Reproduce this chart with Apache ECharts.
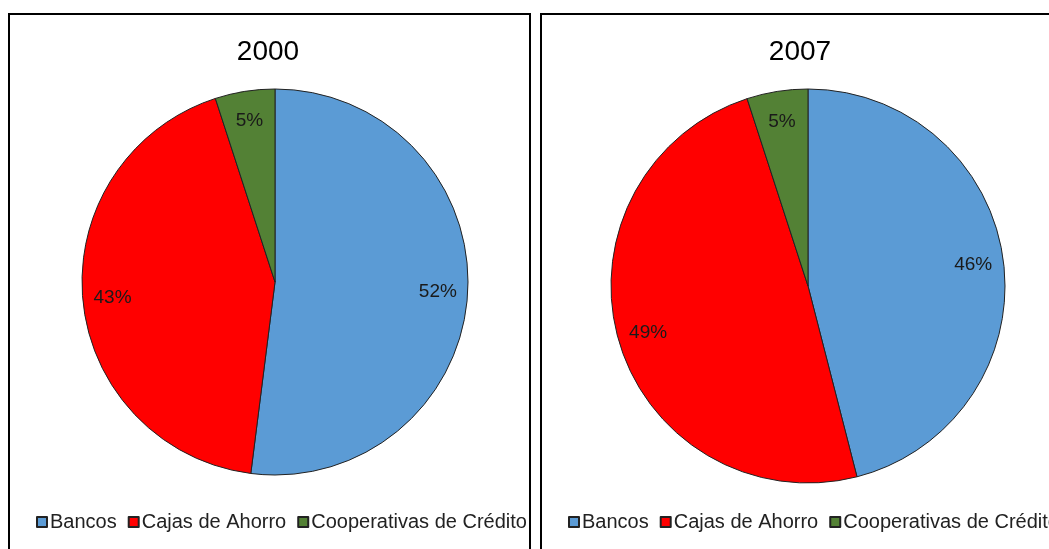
<!DOCTYPE html>
<html>
<head>
<meta charset="utf-8">
<script src="https://cdn.jsdelivr.net/npm/echarts@6/dist/echarts.min.js"></script>
<style>
html,body{margin:0;padding:0;background:#fff;}
#c{width:1049px;height:549px;}
</style>
</head>
<body>
<div id="c"></div>
<script>
// Data
const categories = ['Bancos', 'Cajas de Ahorro', 'Cooperativas de Crédito'];
const years = ['2000', '2007'];
const values2000 = [52, 43, 5];
const values2007 = [46, 49, 5];

const colors = ['#5B9BD5', '#FF0000', '#538135'];
const FONT = 'Liberation Sans';

const panels = [
  { year: years[0], values: values2000, center: [275, 282], r: 193, titleX: 268, legendX: 36 },
  { year: years[1], values: values2007, center: [808, 286], r: 197, titleX: 800, legendX: 568 }
];

function mkData(vals) {
  return categories.map((n, i) => ({ name: n, value: vals[i], itemStyle: { color: colors[i] } }));
}

const series = [];
const titles = [];
const legends = [];
panels.forEach((p, k) => {
  series.push({
    type: 'pie', name: p.year + 's', center: p.center, radius: [0, p.r],
    startAngle: 90, clockwise: true, silent: true, animation: false,
    itemStyle: { borderColor: '#222', borderWidth: 1 },
    label: { show: false }, labelLine: { show: false },
    emphasis: { disabled: true },
    data: mkData(p.values)
  });
  // label overlay (transparent) to put labels at ~0.83 radius
  series.push({
    type: 'pie', name: p.year + 'l', center: p.center, radius: [0, p.r * 1.66],
    startAngle: 90, clockwise: true, silent: true, animation: false,
    itemStyle: { color: 'rgba(0,0,0,0)', borderWidth: 0 },
    label: { show: true, position: 'inside', formatter: '{c}%', color: '#1a1a1a',
      fontFamily: FONT, fontSize: 19 },
    labelLine: { show: false },
    emphasis: { disabled: true },
    data: categories.map((n, i) => ({ name: n, value: p.values[i] }))
  });
  titles.push({
    text: p.year, left: p.titleX, top: 38, padding: 0, textAlign: 'center',
    textStyle: { fontFamily: FONT, fontSize: 28, fontWeight: 'normal', color: '#000' }
  });
  legends.push({
    data: categories, left: p.legendX, top: 512, padding: 0, width: 700, orient: 'horizontal',
    icon: 'rect', itemWidth: 10, itemHeight: 10, itemGap: 11,
    selectedMode: false,
    textStyle: { fontFamily: FONT, fontSize: 20, color: '#222', padding: [0, 0, 0, -2] }
  });
});

const chart = echarts.init(document.getElementById('c'), null, { renderer: 'canvas' });
chart.setOption({
  animation: false,
  backgroundColor: '#fff',
  title: titles,
  legend: legends,
  graphic: [
    { type: 'rect', shape: { x: 9, y: 14, width: 521, height: 600 }, style: { fill: 'none', stroke: '#000', lineWidth: 2 }, z: 100 },
    { type: 'rect', shape: { x: 541, y: 14, width: 600, height: 600 }, style: { fill: 'none', stroke: '#000', lineWidth: 2 }, z: 100 }
  ],
  series: series
});
</script>
</body>
</html>
